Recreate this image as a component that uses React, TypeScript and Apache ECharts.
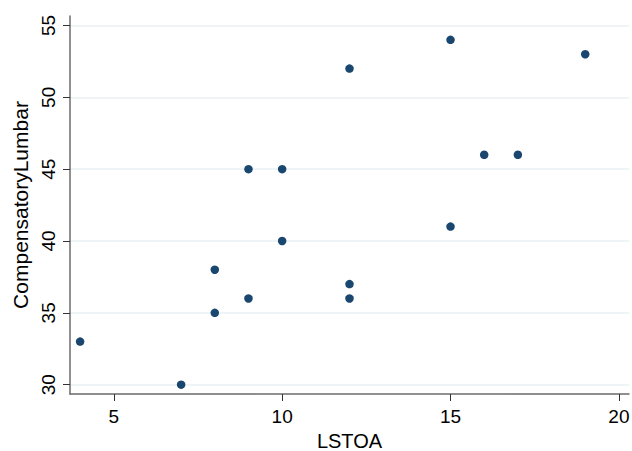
import React, { useEffect, useRef } from "react";
import * as echarts from "echarts";

const lstoa = [4, 7, 8, 8, 9, 9, 10, 10, 12, 12, 12, 15, 15, 16, 17, 19];
const lumbar = [33, 30, 35, 38, 36, 45, 40, 45, 37, 36, 52, 54, 41, 46, 46, 53];
const xTicks = [5, 10, 15, 20];
const yTicks = [30, 35, 40, 45, 50, 55];

export default function App() {
  const ref = useRef<HTMLDivElement>(null);
  useEffect(() => {
    document.body.style.margin = "0";
    const chart = echarts.init(ref.current!, null, { renderer: "svg" });
    const font = "Liberation Sans, Arial, sans-serif";
    chart.setOption({
      animation: false,
      backgroundColor: "#ffffff",
      grid: { left: 70, right: 3, top: 16, bottom: 57, containLabel: false, outerBoundsMode: "none" },
      xAxis: {
        type: "value",
        min: 3.7,
        max: 20.3,
        name: "LSTOA",
        nameLocation: "middle",
        nameGap: 35,
        nameTextStyle: { fontFamily: font, fontSize: 20, lineHeight: 20, color: "#000" },
        axisLine: { show: true, lineStyle: { color: "#6b6b6b", width: 1.5 } },
        axisTick: { show: true, length: 7, customValues: xTicks, lineStyle: { color: "#333" } },
        axisLabel: { customValues: xTicks, fontFamily: font, fontSize: 19, color: "#000", margin: 13 },
        splitLine: { show: false },
      },
      yAxis: {
        type: "value",
        min: 29.35,
        max: 55.66,
        name: "CompensatoryLumbar",
        nameLocation: "middle",
        nameGap: 39,
        nameRotate: 90,
        nameTextStyle: { fontFamily: font, fontSize: 21, color: "#000" },
        axisLine: { show: true, lineStyle: { color: "#6b6b6b", width: 1.5 } },
        axisTick: { show: true, length: 7, customValues: yTicks, lineStyle: { color: "#333" } },
        axisLabel: { customValues: yTicks, rotate: 90, fontFamily: font, fontSize: 19, color: "#000", margin: 12 },
        splitLine: { show: false },
      },
      series: [
        {
          type: "scatter",
          data: lstoa.map((x, i) => [x, lumbar[i]]),
          symbol: "circle",
          symbolSize: 8.5,
          itemStyle: { color: "#1a476f", opacity: 1 },
          markLine: {
            silent: true,
            symbol: "none",
            label: { show: false },
            lineStyle: { color: "#eaf2f3", width: 1.5, type: "solid" },
            data: yTicks.map((v) => ({ yAxis: v })),
            z: 0,
          },
          z: 3,
        },
      ],
    });
    return () => chart.dispose();
  }, []);
  return <div ref={ref} style={{ width: 632, height: 451 }} />;
}
